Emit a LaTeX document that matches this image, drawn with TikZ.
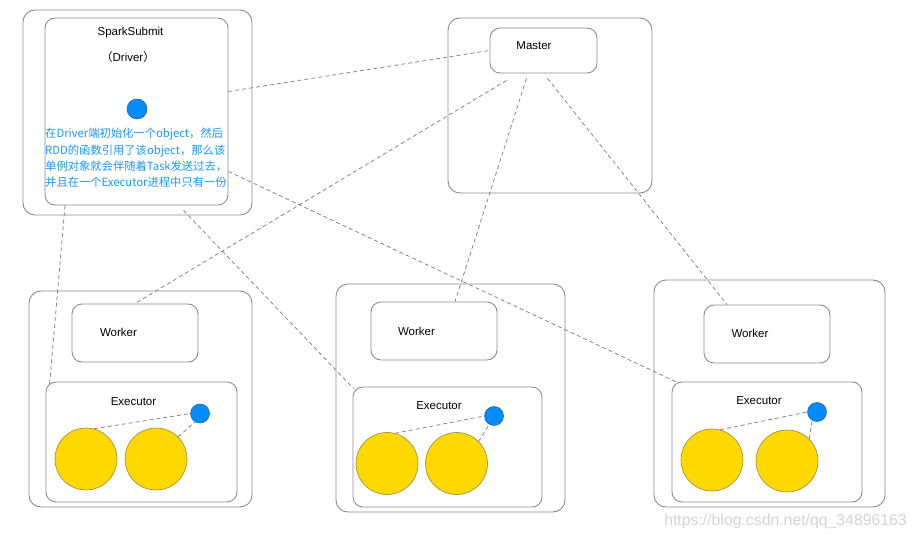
\documentclass[tikz,border=0pt]{standalone}
\usepackage{fontspec}
\setmainfont{Liberation Sans}
\newfontfamily\cjk{Noto Sans CJK SC}
\definecolor{boxgray}{RGB}{140,140,140}
\definecolor{dashgray}{RGB}{120,120,120}
\definecolor{coinyellow}{RGB}{255,216,0}
\definecolor{coinedge}{RGB}{150,135,60}
\definecolor{dotblue}{RGB}{0,140,255}
\definecolor{dotedge}{RGB}{40,90,150}
\definecolor{noteblue}{RGB}{25,150,255}
\definecolor{markgray}{RGB}{212,212,212}
\tikzset{
  outbox/.style={draw=boxgray, line width=0.9pt, rounded corners=12pt, inner sep=0pt},
  inbox/.style={draw=boxgray, line width=0.9pt, rounded corners=10pt, inner sep=0pt},
  label/.style={inner sep=0pt, font=\fontsize{11.5}{13}\selectfont},
  coin/.style={circle, draw=coinedge, fill=coinyellow, line width=0.6pt, minimum size=62pt, inner sep=0pt},
  bdot/.style={circle, draw=dotedge, fill=dotblue, line width=0.5pt, minimum size=19pt, inner sep=0pt},
  link/.style={draw=dashgray, line width=0.7pt, dash pattern=on 4pt off 3pt}
}
\begin{document}
\begin{tikzpicture}[x=1pt,y=-1pt]
  \useasboundingbox (0,0) rectangle (916,540);
  \node[outbox, minimum width=229pt, minimum height=205pt] (drvout) at (137.5,112.5) {};
  \node[inbox, minimum width=183pt, minimum height=187pt] (drv) at (136.5,111.5) {};
  \node[label] (submit) at (130.5,33) {SparkSubmit};
  \node[label] (drvname) at (128,57) {\cjk （\fontspec{Liberation Sans}Driver\cjk ）};
  \node[bdot, minimum width=18pt, minimum height=20pt] (d0) at (137,109) {};
  \node[anchor=north west, inner sep=0pt, align=left, text=noteblue,
        font=\cjk\fontsize{11.3}{16.3}\selectfont] (note) at (45,128)
    {在Driver端初始化一个object，然后\\RDD的函数引用了该object，那么该\\单例对象就会伴随着Task发送过去，\\并且在一个Executor进程中只有一份};

  \node[outbox, minimum width=204pt, minimum height=175pt] (mstout) at (550,105.5) {};
  \node[inbox, minimum width=107pt, minimum height=45pt] (mst) at (543.5,50.5) {};
  \node[label] (mstname) at (534,46) {Master};

  \node[outbox, minimum width=223pt, minimum height=216pt] (w1out) at (140.5,399) {};
  \node[inbox, minimum width=126pt, minimum height=58pt] (w1) at (135,333) {};
  \node[label] (w1name) at (118.5,332) {Worker};
  \node[inbox, minimum width=191pt, minimum height=120pt] (ex1) at (141.5,442) {};
  \node[label] (ex1name) at (133.5,402) {Executor};
  \node[coin] (c11) at (86,459) {};
  \node[coin] (c12) at (156,459) {};
  \node[bdot] (d1) at (200,413.5) {};

  \node[outbox, minimum width=229pt, minimum height=228pt] (w2out) at (450.5,398) {};
  \node[inbox, minimum width=126pt, minimum height=58pt] (w2) at (434,331) {};
  \node[label] (w2name) at (416.5,331) {Worker};
  \node[inbox, minimum width=189pt, minimum height=120pt] (ex2) at (447.5,447) {};
  \node[label] (ex2name) at (439,406) {Executor};
  \node[coin] (c21) at (387,463.5) {};
  \node[coin] (c22) at (456.5,463.5) {};
  \node[bdot] (d2) at (494,416) {};

  \node[outbox, minimum width=231pt, minimum height=227pt] (w3out) at (769.5,393.5) {};
  \node[inbox, minimum width=126pt, minimum height=58pt] (w3) at (767,334) {};
  \node[label] (w3name) at (750,333) {Worker};
  \node[inbox, minimum width=190pt, minimum height=120pt] (ex3) at (767,442) {};
  \node[label] (ex3name) at (759,401) {Executor};
  \node[coin] (c31) at (712,460) {};
  \node[coin] (c32) at (787,461) {};
  \node[bdot] (d3) at (817,412) {};

  \draw[link] ([yshift=20pt]drv.east) -- (mst.west);
  \draw[link] ([xshift=-37pt,yshift=-7pt]mst.south) -- (w1.north);
  \draw[link] ([xshift=-17pt,yshift=-5pt]mst.south) -- ([xshift=21pt]w2.north);
  \draw[link] ([xshift=4pt,yshift=-5pt]mst.south) -- ([xshift=-40pt]w3.north);
  \draw[link] ([xshift=-71.5pt]drv.south) -- ([xshift=4pt,yshift=-3pt]ex1.north west);
  \draw[link] ([xshift=47pt,yshift=-5pt]drv.south) -- ([xshift=1pt,yshift=-2pt]ex2.north west);
  \draw[link] ([yshift=-60pt]drv.east) -- ([xshift=4pt]ex3.north west);

  \draw[link] (c11.75) -- (d1.west);
  \draw[link] (c12.45) -- (d1.240);
  \draw[link] (c21.75) -- (d2.west);
  \draw[link] (c22.45) -- (d2.240);
  \draw[link] (c31.75) -- (d3.west);
  \draw[link] (c32.45) -- (d3.240);

  \node[inner sep=0pt, text=markgray, font=\fontsize{15.8}{17}\selectfont] (mark) at (785.5,521) {https://blog.csdn.net/qq\_34896163};
\end{tikzpicture}
\end{document}
